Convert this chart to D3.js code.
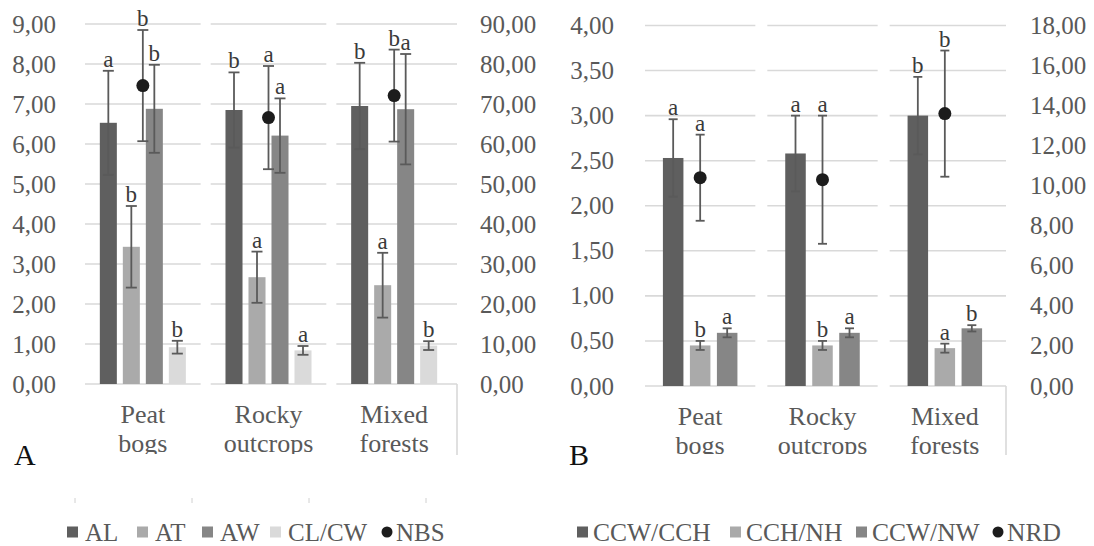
<!DOCTYPE html>
<html>
<head>
<meta charset="utf-8">
<script src="https://cdn.jsdelivr.net/npm/d3@7"></script>
</head>
<body style="margin:0">
<svg id="fig" width="1094" height="546"></svg>
<script>
// Data
const habitats = [["Peat", "bogs"], ["Rocky", "outcrops"], ["Mixed", "forests"]];

// Panel A
const seriesA = ["AL", "AT", "AW", "CL/CW"];
const AL = [6.53, 6.85, 6.95],      AL_err = [1.30, 0.94, 1.08];
const AT = [3.43, 2.67, 2.47],      AT_err = [1.02, 0.64, 0.81];
const AW = [6.88, 6.21, 6.87],      AW_err = [1.10, 0.93, 1.38];
const CLCW = [0.92, 0.84, 0.96],    CLCW_err = [0.16, 0.11, 0.11];
const NBS = [74.6, 66.6, 72.1],     NBS_err = [13.9, 12.9, 11.5];
const lettersA = {AL: ["a", "b", "b"], AT: ["b", "a", "a"], AW: ["b", "a", "a"], "CL/CW": ["b", "a", "b"]};
const lettersNBS = ["b", "a", "b"];
const ticksA_left = [0, 1, 2, 3, 4, 5, 6, 7, 8, 9];
const ticksA_right = [0, 10, 20, 30, 40, 50, 60, 70, 80, 90];

// Panel B
const seriesB = ["CCW/CCH", "CCH/NH", "CCW/NW"];
const CCW_CCH = [2.53, 2.58, 3.00], CCW_CCH_err = [0.43, 0.42, 0.43];
const CCH_NH = [0.45, 0.45, 0.42],  CCH_NH_err = [0.05, 0.05, 0.05];
const CCW_NW = [0.59, 0.59, 0.64],  CCW_NW_err = [0.05, 0.05, 0.035];
const NRD = [10.4, 10.3, 13.6],     NRD_err = [2.15, 3.2, 3.15];
const lettersB = {"CCW/CCH": ["a", "a", "b"], "CCH/NH": ["b", "b", "a"], "CCW/NW": ["a", "a", "b"]};
const lettersNRD = ["a", "a", "b"];
const ticksB_left = [0, 0.5, 1, 1.5, 2, 2.5, 3, 3.5, 4];
const ticksB_right = [0, 2, 4, 6, 8, 10, 12, 14, 16, 18];

const colors = {
  "AL": "#5f5f5f", "AT": "#aaaaaa", "AW": "#868686", "CL/CW": "#dadada",
  "CCW/CCH": "#5f5f5f", "CCH/NH": "#aaaaaa", "CCW/NW": "#868686"
};
const textGray = "#595959";
const gridGray = "#d9d9d9";
const errGray = "#5a5a5a";
const dotColor = "#1c1c1c";

const locale = d3.formatLocale({decimal: ",", thousands: ".", grouping: [3], currency: ["", ""]});
const fmt = locale.format(".2f");

const svg = d3.select("#fig");

svg.append("defs").append("clipPath").attr("id", "catclip")
  .append("rect").attr("x", 0).attr("y", 0).attr("width", 1094).attr("height", 454);

// every text gets the serif face, forced inline
function txt(sel, size, fill) {
  sel.attr("font-family", "Liberation Serif").attr("font-size", size).attr("fill", fill);
  sel.each(function() {
    this.style.setProperty("font-family", '"Liberation Serif"', "important");
    this.style.setProperty("font-size", size + "px", "important");
  });
  return sel;
}

function panel(opt) {
  const g = svg.append("g");
  const x = d3.scaleBand().domain(d3.range(habitats.length)).range(opt.xRange);
  const yL = d3.scaleLinear().domain(opt.leftDomain).range(opt.yRange);
  const yR = d3.scaleLinear().domain(opt.rightDomain).range(opt.yRange);
  const inner = d3.scaleBand().domain(opt.series).range(opt.innerRange)
    .paddingInner(opt.padIn).paddingOuter(opt.padIn / 2);

  // gridlines, broken at each category boundary
  opt.leftTicks.forEach(t => {
    d3.range(habitats.length).forEach(i => {
      const x0 = x(i) + opt.gridInset;
      const x1 = i === habitats.length - 1 ? x(i) + x.bandwidth() : x(i) + x.bandwidth() - opt.gridInset;
      g.append("line")
        .attr("x1", x0).attr("x2", x1)
        .attr("y1", yL(t)).attr("y2", yL(t))
        .attr("stroke", gridGray).attr("stroke-width", 1.6);
    });
  });

  // right edge line of the last category box
  g.append("line")
    .attr("x1", opt.xRange[1]).attr("x2", opt.xRange[1])
    .attr("y1", yL(0)).attr("y2", 455)
    .attr("stroke", gridGray).attr("stroke-width", 1.6);

  // axes
  const axL = g.append("g").attr("transform", `translate(${opt.leftLabelX},0)`)
    .call(d3.axisLeft(yL).tickValues(opt.leftTicks).tickFormat(fmt).tickSize(0).tickPadding(0));
  const axR = g.append("g").attr("transform", `translate(${opt.rightLabelX},0)`)
    .call(d3.axisRight(yR).tickValues(opt.rightTicks).tickFormat(fmt).tickSize(0).tickPadding(0));
  [axL, axR].forEach(ax => {
    ax.select(".domain").remove();
    ax.attr("font-family", "Liberation Serif").attr("font-size", 25);
    txt(ax.selectAll("text"), 25, textGray);
  });

  // bars + error bars + letters
  opt.series.forEach((s, si) => {
    const vals = opt.values[si], errs = opt.errors[si];
    vals.forEach((v, i) => {
      const cx = x(i) + x.bandwidth() / 2;
      const bx = cx + inner(s);
      const bw = inner.bandwidth();
      g.append("rect")
        .attr("x", bx).attr("y", yL(v))
        .attr("width", bw).attr("height", yL(0) - yL(v))
        .attr("fill", colors[s]);
      const mx = bx + bw / 2;
      errorBar(g, mx, yL(v + errs[i]), yL(v - errs[i]), opt.cap);
      letter(g, mx, yL(v + errs[i]) - 4, opt.letters[s][i]);
    });
  });

  // dots on the secondary axis
  opt.dots.forEach((v, i) => {
    const cx = x(i) + x.bandwidth() / 2;
    errorBar(g, cx, yR(v + opt.dotErr[i]), yR(v - opt.dotErr[i]), opt.cap);
    g.append("circle").attr("cx", cx).attr("cy", yR(v)).attr("r", 6.5).attr("fill", dotColor);
    letter(g, cx, yR(v + opt.dotErr[i]) - 4, opt.dotLetters[i]);
  });

  // category labels (cut off at the bottom in the original)
  const cat = g.append("g").attr("clip-path", "url(#catclip)");
  habitats.forEach((lines, i) => {
    const cx = x(i) + x.bandwidth() / 2;
    lines.forEach((ln, k) => {
      txt(cat.append("text"), 26, textGray)
        .attr("x", cx).attr("y", opt.catY + k * 29)
        .attr("text-anchor", "middle")
        .text(ln);
    });
  });

  // panel letter
  txt(g.append("text"), 30, "#111").attr("x", opt.tagX).attr("y", 465).text(opt.tag);
}

function errorBar(g, x, yTop, yBot, cap) {
  g.append("line").attr("x1", x).attr("x2", x).attr("y1", yTop).attr("y2", yBot)
    .attr("stroke", errGray).attr("stroke-width", 1.8);
  [yTop, yBot].forEach(yy => {
    g.append("line").attr("x1", x - cap / 2).attr("x2", x + cap / 2).attr("y1", yy).attr("y2", yy)
      .attr("stroke", errGray).attr("stroke-width", 1.8);
  });
}

function letter(g, x, y, t) {
  txt(g.append("text"), 23, "#3a3a3a")
    .attr("x", x).attr("y", y).attr("text-anchor", "middle").text(t);
}

panel({
  xRange: [80, 457], yRange: [384, 24],
  leftDomain: [0, 9], rightDomain: [0, 90],
  leftTicks: ticksA_left, rightTicks: ticksA_right,
  leftLabelX: 56, rightLabelX: 480,
  series: seriesA, innerRange: [-46, 46], padIn: 0.26,
  values: [AL, AT, AW, CLCW], errors: [AL_err, AT_err, AW_err, CLCW_err],
  letters: lettersA, dots: NBS, dotErr: NBS_err, dotLetters: lettersNBS,
  gridInset: 5, cap: 11, catY: 423, tag: "A", tagX: 14
});

panel({
  xRange: [639, 1006], yRange: [386, 25.5],
  leftDomain: [0, 4], rightDomain: [0, 18],
  leftTicks: ticksB_left, rightTicks: ticksB_right,
  leftLabelX: 614, rightLabelX: 1030,
  series: seriesB, innerRange: [-40.5, 40.5], padIn: 0.24,
  values: [CCW_CCH, CCH_NH, CCW_NW], errors: [CCW_CCH_err, CCH_NH_err, CCW_NW_err],
  letters: lettersB, dots: NRD, dotErr: NRD_err, dotLetters: lettersNRD,
  gridInset: 6, cap: 9, catY: 425, tag: "B", tagX: 569
});

// faint tick marks under panel A
[75, 192, 309, 426].forEach(tx => {
  svg.append("line").attr("x1", tx).attr("x2", tx).attr("y1", 498).attr("y2", 503)
    .attr("stroke", "#d0d0d0").attr("stroke-width", 1);
});

// legends: key x positions taken from the figure layout
function legend(names, keyX, dotName, dotX, textGap, size, yc) {
  const g = svg.append("g");
  names.forEach((n, i) => {
    g.append("rect").attr("x", keyX[i]).attr("y", yc - 5.5).attr("width", 11).attr("height", 11)
      .attr("fill", colors[n]);
    txt(g.append("text"), size, textGray).attr("x", keyX[i] + 11 + textGap).attr("y", yc + 8.5).text(n);
  });
  g.append("circle").attr("cx", dotX).attr("cy", yc).attr("r", 5.5).attr("fill", dotColor);
  txt(g.append("text"), size, textGray).attr("x", dotX + 9).attr("y", yc + 8.5).text(dotName);
}
legend(seriesA, [67, 137, 202, 270], "NBS", 387, 7, 25, 532);
legend(seriesB, [577, 730, 856], "NRD", 998, 5, 25.5, 532);
</script>
</body>
</html>
